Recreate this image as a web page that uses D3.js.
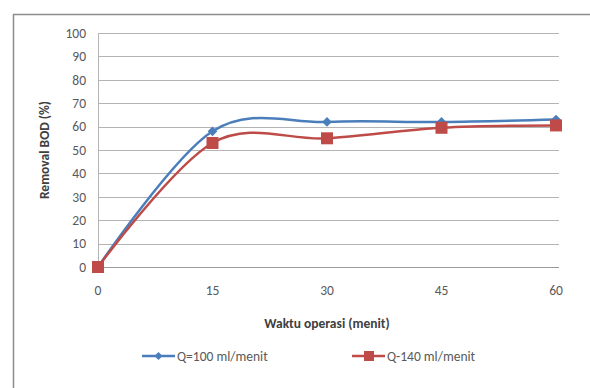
<!DOCTYPE html>
<html>
<head>
<meta charset="utf-8">
<script src="https://cdn.jsdelivr.net/npm/d3@7"></script>
<style>
  body { margin: 0; background: #fff; }
  svg text { font-family: Carlito, "Liberation Sans Narrow", "Liberation Sans", sans-serif; fill: #595959; }
</style>
</head>
<body>
<div id="chart"></div>
<script>
var waktu = [0, 15, 30, 45, 60];
var q100 = [0, 58, 62, 62, 63];
var q140 = [0, 53, 55, 59.5, 60.5];
var yTicks = [0, 10, 20, 30, 40, 50, 60, 70, 80, 90, 100];
var seriesNames = ["Q=100 ml/menit", "Q-140 ml/menit"];
var seriesColors = ["#4A7EBB", "#BE4B48"];

var width = 590, height = 388;
var svg = d3.select("#chart").append("svg")
    .attr("width", width)
    .attr("height", height);

// chart border (runs past the window on right / bottom)
svg.append("rect")
    .attr("x", 13.5).attr("y", 14.5)
    .attr("width", 600).attr("height", 400)
    .attr("fill", "#fff")
    .attr("stroke", "#8c8c8c")
    .attr("stroke-width", 1.5);

var x = d3.scaleLinear().domain([0, 60]).range([98, 556]);
var y = d3.scaleLinear().domain([0, 100]).range([267, 33]);

var g = svg.append("g");

// gridlines
g.selectAll("line.grid")
    .data(yTicks)
    .enter().append("line")
    .attr("class", "grid")
    .attr("x1", x(0)).attr("x2", x(60) + 3)
    .attr("y1", function(d){ return Math.round(y(d)) + 0.5; })
    .attr("y2", function(d){ return Math.round(y(d)) + 0.5; })
    .attr("stroke", function(d){ return d === 0 ? "#9a9a9a" : "#b4b4b4"; })
    .attr("stroke-width", 1.2);

// y axis line
g.append("line")
    .attr("x1", x(0) + 0.5).attr("x2", x(0) + 0.5)
    .attr("y1", y(100)).attr("y2", y(0))
    .attr("stroke", "#b4b4b4");

// y tick labels
g.selectAll("text.ytick")
    .data(yTicks)
    .enter().append("text")
    .attr("class", "ytick")
    .attr("x", 86)
    .attr("y", function(d){ return y(d); })
    .attr("dy", "0.35em")
    .attr("text-anchor", "end")
    .attr("font-size", "13.5px")
    .text(function(d){ return d; });

// x tick labels
g.selectAll("text.xtick")
    .data(waktu)
    .enter().append("text")
    .attr("class", "xtick")
    .attr("x", function(d){ return x(d); })
    .attr("y", 295)
    .attr("text-anchor", "middle")
    .attr("font-size", "13.5px")
    .text(function(d){ return d; });

// axis titles
svg.append("text")
    .attr("x", (x(0) + x(60)) / 2)
    .attr("y", 328)
    .attr("text-anchor", "middle")
    .attr("font-size", "13.5px")
    .attr("font-weight", "bold")
    .style("fill", "#404040")
    .text("Waktu operasi (menit)");

svg.append("text")
    .attr("transform", "translate(49," + (y(50)) + ") rotate(-90)")
    .attr("text-anchor", "middle")
    .attr("font-size", "13.5px")
    .attr("font-weight", "bold")
    .style("fill", "#404040")
    .text("Removal BOD (%)");

var line = d3.line()
    .x(function(d, i){ return x(waktu[i]); })
    .y(function(d){ return y(d); })
    .curve(d3.curveCardinal.tension(0));

var series = [q100, q140];
series.forEach(function(s, k){
    g.append("path")
        .datum(s)
        .attr("fill", "none")
        .attr("stroke", seriesColors[k])
        .attr("stroke-width", 2.5)
        .attr("d", line);
});

// markers: diamonds for q100, squares for q140
g.selectAll("path.m100")
    .data(q100)
    .enter().append("path")
    .attr("class", "m100")
    .attr("transform", function(d, i){ return "translate(" + x(waktu[i]) + "," + y(d) + ")"; })
    .attr("d", d3.symbol().type(d3.symbolDiamond2).size(60))
    .attr("fill", seriesColors[0]);

g.selectAll("rect.m140")
    .data(q140)
    .enter().append("rect")
    .attr("class", "m140")
    .attr("x", function(d, i){ return x(waktu[i]) - 6; })
    .attr("y", function(d){ return y(d) - 6; })
    .attr("width", 12).attr("height", 12)
    .attr("fill", seriesColors[1]);

// legend
var legendX = [142, 352];
seriesNames.forEach(function(name, k){
    var lg = svg.append("g").attr("transform", "translate(" + legendX[k] + ",356)");
    lg.append("line")
        .attr("x1", 0).attr("x2", 33)
        .attr("y1", 0).attr("y2", 0)
        .attr("stroke", seriesColors[k])
        .attr("stroke-width", 2.5);
    if (k === 0) {
        lg.append("path")
            .attr("transform", "translate(16.5,0)")
            .attr("d", d3.symbol().type(d3.symbolDiamond2).size(40))
            .attr("fill", seriesColors[k]);
    } else {
        lg.append("rect")
            .attr("x", 12).attr("y", -5)
            .attr("width", 10).attr("height", 10)
            .attr("fill", seriesColors[k]);
    }
    lg.append("text")
        .attr("x", 35)
        .attr("y", 0)
        .attr("dy", "0.35em")
        .attr("font-size", "13.5px")
        .text(name);
});
</script>
</body>
</html>
